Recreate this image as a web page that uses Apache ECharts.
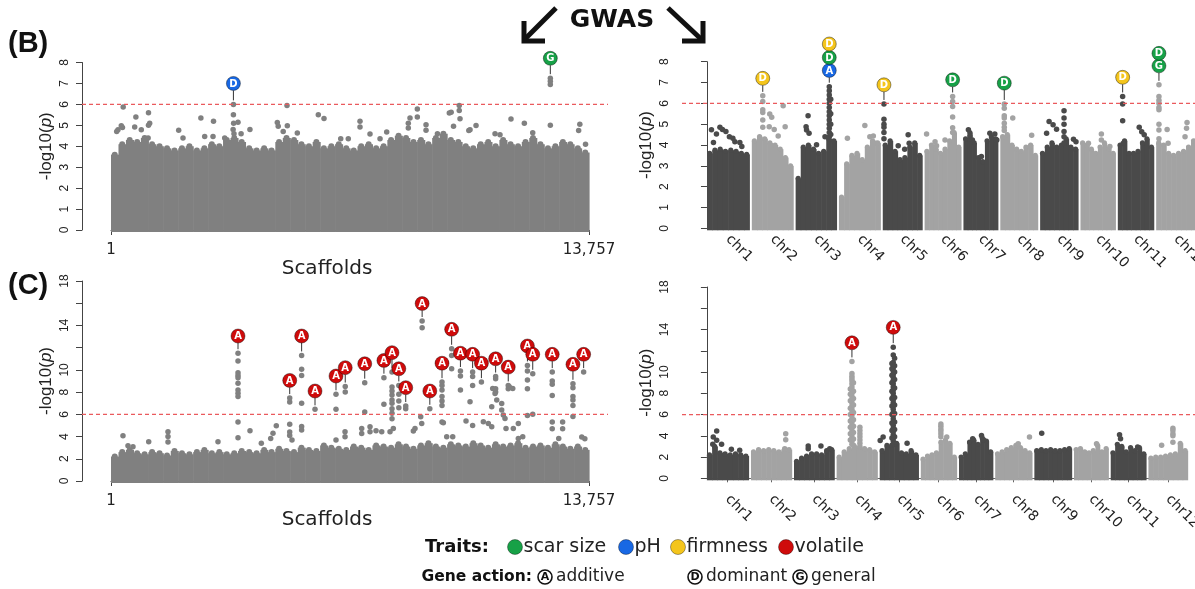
<!DOCTYPE html>
<html>
<head>
<meta charset="utf-8">
<title>GWAS Manhattan plots</title>
<script src="https://cdn.jsdelivr.net/npm/echarts@6.0.0/dist/echarts.min.js"></script>
<style>
  html, body { margin: 0; padding: 0; background: #fff; }
  #chart { width: 1195px; height: 589px; }
</style>
</head>
<body>
<div id="chart"></div>
<script>
// ---------- values ----------
const scaffoldRange = [1, 13757];
const chromosomes = ['chr1', 'chr2', 'chr3', 'chr4', 'chr5', 'chr6', 'chr7', 'chr8', 'chr9', 'chr10', 'chr11', 'chr12'];
const chrLength = [85, 83, 82, 83, 79, 73, 69, 75, 76, 70, 72, 80];
const threshold = 6;
const hiddenTicksC = [12, 16]; // ticks without label on the (C) y axes

// (B) scaffolds: upper edge of the dense cloud, 64 equal bins
const tlEnvelope = [3.6, 4.1, 4.3, 4.2, 4.4, 4.1, 4.0, 3.9, 3.8, 3.9, 4.0, 3.8, 3.9, 4.1, 4.0, 4.3,
  4.4, 4.2, 3.9, 3.8, 3.9, 3.8, 4.2, 4.4, 4.3, 4.1, 4.0, 4.2, 3.9, 4.0, 4.1, 3.9,
  3.8, 4.0, 4.1, 3.9, 4.0, 4.3, 4.5, 4.4, 4.2, 4.3, 4.1, 4.4, 4.6, 4.3, 4.2, 4.0,
  3.9, 4.1, 4.2, 4.0, 4.3, 4.1, 4.0, 4.2, 4.4, 4.1, 3.9, 4.0, 4.2, 4.1, 3.9, 3.7];
// (B) scaffolds: single markers above the cloud [scaffold, -log10 p]
const tlDots = [[352, 5.87], [331, 4.9], [165, 4.7], [202, 4.79], [297, 4.98], [683, 4.92], [717, 5.4], [873, 4.79],
  [1080, 5.6], [1080, 5.0], [1114, 5.1], [1069, 4.4], [1949, 4.76], [2073, 4.39], [2588, 5.35], [2697, 4.47],
  [2951, 5.2], [2937, 4.47], [3273, 4.39], [3524, 6.0], [3524, 5.5], [3530, 5.1], [3515, 4.8], [3540, 4.6],
  [3656, 5.15], [3745, 4.6], [3999, 4.8], [4787, 5.14], [4813, 4.95], [4957, 4.7], [5066, 5.95], [5075, 4.98],
  [5363, 4.63], [5967, 5.51], [6131, 5.32], [6612, 4.36], [6830, 4.36], [7167, 5.19], [7167, 4.92], [7455, 4.58],
  [7743, 4.36], [7935, 4.68], [8557, 5.1], [8557, 4.87], [8606, 5.35], [8817, 5.78], [8817, 5.4], [9067, 5.03],
  [9067, 4.76], [9395, 4.6], [9737, 5.59], [9790, 5.62], [9858, 4.95], [10023, 5.95], [10023, 5.71], [10045, 5.31],
  [10298, 4.75], [10333, 4.79], [10506, 4.99], [11053, 4.6], [11196, 4.55], [11512, 5.3], [11896, 5.1], [12137, 4.65],
  [12644, 7.25], [12644, 7.1], [12644, 6.95], [12644, 5.0], [13459, 4.75], [13493, 5.05], [13657, 4.1]];
// [scaffold, top marker, pin level, gene action, trait]
const tlPins = [[3524, 6.0, 7.0, 'D', 'pH'], [12644, 7.25, 8.2, 'G', 'scar size']];

// (C) scaffolds
const blEnvelope = [2.2, 2.6, 2.8, 2.5, 2.4, 2.6, 2.5, 2.3, 2.7, 2.5, 2.4, 2.6, 2.8, 2.5, 2.6, 2.4,
  2.5, 2.7, 2.6, 2.5, 2.8, 2.6, 2.9, 2.7, 2.6, 3.0, 2.8, 2.7, 3.2, 3.0, 2.9, 2.8,
  3.1, 3.0, 2.8, 3.2, 3.1, 3.0, 3.3, 3.1, 2.9, 3.2, 3.4, 3.1, 3.0, 3.3, 3.2, 3.1,
  3.4, 3.2, 3.0, 3.3, 3.1, 3.2, 3.4, 3.0, 3.1, 3.2, 3.0, 3.3, 3.1, 2.9, 3.1, 2.8];
const blDots = [[346, 4.07], [490, 3.17], [634, 3.08], [1086, 3.53], [1641, 4.44], [1641, 4.0], [1641, 3.5],
  [3080, 3.53], [4001, 4.53], [4327, 3.4], [4597, 3.83], [4663, 4.3], [4758, 4.97], [5210, 3.68],
  [6736, 4.44], [6736, 3.99], [7216, 4.73], [7216, 4.28], [7455, 4.88], [7455, 4.44], [7628, 4.52], [7792, 4.44],
  [8031, 4.44], [8126, 4.73], [8702, 4.49], [8750, 4.73], [8914, 5.78], [8943, 5.18], [9565, 5.24], [9662, 3.99],
  [9835, 3.99], [10218, 5.39], [10333, 7.13], [10716, 5.33], [10860, 5.18], [10958, 4.88], [10986, 8.33],
  [11053, 7.88], [11102, 7.28], [10958, 6.68], [11245, 6.98], [11245, 6.38], [11291, 5.93], [11340, 5.63],
  [11369, 4.73], [11464, 8.48], [11562, 8.33], [11579, 4.73], [11723, 5.18], [11723, 3.83], [11850, 3.99],
  [12886, 3.83], [12998, 5.3], [12998, 4.7], [13548, 3.97], [13637, 3.8]];
// vertical runs of markers under the peaks [scaffold, values]
const blColumns = [[3656, [11.5, 10.8, 9.75, 9.5, 9.3, 8.8, 8.2, 7.9, 7.6, 5.3, 3.9]], [5144, [7.46, 7.1, 5.1, 4.4, 4.1]],
  [5487, [11.3, 10.06, 9.5, 7.0, 4.9, 4.6]], [5872, [6.45]], [6476, [7.8, 6.45, 3.7]], [6742, [8.5, 8.0]],
  [7303, [8.85, 6.2]], [7855, [9.3, 6.9]], [8088, [9.8, 8.47, 8.1, 7.75, 7.3, 7.0, 6.5, 6.1, 5.6]],
  [8284, [8.6, 7.8, 7.2, 6.6]], [8483, [6.75, 6.5]], [8955, [14.4, 13.8]], [9176, [6.5]],
  [9527, [8.9, 8.6, 8.2, 7.6, 7.2, 6.8, 5.3]], [9804, [11.9, 11.3, 10.1]], [10057, [9.9, 9.45, 8.2]],
  [10408, [9.8, 9.4, 8.6, 5.0]], [10661, [8.9]], [11070, [9.4, 9.2, 8.3, 8.0]], [11433, [8.6, 8.3]],
  [11985, [10.4, 9.9, 9.1, 8.3, 5.9]], [12138, [9.65, 6.0]], [12699, [9.8, 9.0, 8.7, 7.7, 5.3, 4.7]],
  [13295, [8.75, 8.4, 7.6, 7.3, 6.8, 5.8]], [13603, [9.8]]];
const blPins = [[3656, 11.5, 13.05], [5144, 7.46, 9.05], [5487, 11.3, 13.05], [5872, 6.45, 8.1], [6476, 7.8, 9.45],
  [6742, 8.5, 10.2], [7303, 8.85, 10.55], [7855, 9.3, 10.85], [8088, 9.8, 11.55], [8284, 8.6, 10.1],
  [8483, 6.75, 8.4], [8955, 14.4, 15.97], [9176, 6.5, 8.1], [9527, 8.9, 10.6], [9804, 11.9, 13.65],
  [10057, 9.9, 11.5], [10408, 9.8, 11.4], [10661, 8.9, 10.6], [11070, 9.4, 11.0], [11433, 8.6, 10.25],
  [11985, 10.4, 12.15], [12138, 9.65, 11.4], [12699, 9.8, 11.4], [13295, 8.75, 10.5], [13603, 9.8, 11.4]]
  .map(p => p.concat(['A', 'volatile']));

// (B) chromosomes: 8 bins per chromosome
const trEnvelope = [[3.6, 3.75, 3.8, 3.7, 3.75, 3.7, 3.6, 3.55], [4.2, 4.4, 4.3, 4.1, 4.0, 3.8, 3.4, 3.0],
  [2.4, 3.9, 4.0, 3.8, 3.6, 3.7, 4.3, 4.2], [1.5, 3.1, 3.5, 3.6, 3.3, 3.9, 4.2, 4.1],
  [4.0, 4.2, 3.7, 3.3, 3.4, 3.9, 4.1, 3.5], [3.7, 4.0, 3.8, 3.6, 3.8, 4.2, 4.6, 3.9],
  [4.3, 4.6, 4.1, 3.4, 3.2, 4.2, 4.4, 4.3], [4.4, 4.5, 4.0, 3.8, 3.7, 3.9, 4.0, 3.5],
  [3.6, 3.9, 4.1, 3.9, 4.0, 4.3, 3.9, 3.8], [4.1, 4.0, 3.8, 3.6, 3.9, 4.1, 3.8, 3.6],
  [4.0, 4.2, 3.6, 3.6, 3.7, 4.1, 4.3, 3.9], [4.1, 4.0, 3.6, 3.5, 3.6, 3.7, 3.9, 4.2]];
// [chromosome, position in chromosome, -log10 p]
const trDots = [[1, 9, 4.73], [1, 13, 4.12], [1, 19, 4.53], [1, 26, 4.85], [1, 31, 4.75], [1, 38, 4.65], [1, 45, 4.4],
  [1, 52, 4.32], [1, 56, 4.16], [1, 66, 4.12], [1, 70, 3.93],
  [2, 36, 5.49], [2, 40, 5.33], [2, 35, 4.88], [2, 45, 4.75], [2, 63, 5.88], [2, 67, 4.88], [2, 53, 4.43],
  [3, 25, 5.4], [3, 21, 4.88], [3, 22, 4.72], [3, 27, 4.56], [3, 42, 4.01], [3, 59, 4.4],
  [4, 17, 4.33], [4, 52, 4.94], [4, 62, 4.4], [4, 69, 4.43], [4, 74, 4.08],
  [5, 31, 3.96], [5, 51, 4.49], [5, 53, 4.08], [5, 44, 3.8],
  [6, 4, 4.53], [6, 21, 4.16], [6, 24, 3.96], [6, 41, 4.24],
  [7, 10, 4.73], [7, 13, 4.43], [7, 18, 4.24], [7, 36, 3.45], [7, 53, 4.56], [7, 63, 4.53], [7, 67, 4.24],
  [8, 25, 5.3], [8, 63, 4.47], [8, 60, 3.91],
  [9, 18, 5.13], [9, 26, 4.97], [9, 33, 4.76], [9, 67, 4.28], [9, 72, 4.16], [9, 13, 4.56],
  [10, 42, 4.53], [10, 42, 4.24], [10, 16, 4.08], [10, 59, 3.93],
  [11, 43, 4.85], [11, 48, 4.64], [11, 53, 4.49], [11, 11, 4.08],
  [12, 22, 4.75], [12, 24, 4.08], [12, 62, 5.08], [12, 61, 4.8], [12, 58, 4.4]];
const trColumns = [[2, 22, [6.36, 6.09, 5.69, 5.56, 5.2, 4.85]],
  [3, 67.6, [6.8, 6.6, 6.4, 6.2, 6.0, 5.8, 5.6, 5.4, 5.2, 5.0, 4.8, 4.6, 4.4]], [3, 70.5, [6.2, 5.5, 5.0, 4.5]],
  [5, 2.4, [5.97, 5.24, 5.0, 4.85, 4.6, 4.3]], [6, 56.3, [6.33, 6.09, 5.85, 5.34, 4.83, 4.6]],
  [8, 8, [5.97, 5.77, 5.4, 5.3, 5.05, 4.85, 4.7]], [9, 48, [5.64, 5.3, 5.0, 4.65, 4.4, 4.1]],
  [11, 9.7, [6.33, 5.97, 5.17]], [12, 5.6, [6.89, 6.33, 6.15, 6.0, 5.8, 5.69, 5.0, 4.72, 4.3]]];
// [chromosome, position, top marker, pin level, gene action, trait]
const trPins = [[2, 22, 6.36, 7.2, 'D', 'firmness'], [3, 67.6, 6.8, 7.58, 'A', 'pH'],
  [3, 67.6, null, 8.2, 'D', 'scar size'], [3, 67.6, null, 8.85, 'D', 'firmness'],
  [5, 2.4, 5.97, 6.89, 'D', 'firmness'], [6, 56.3, 6.33, 7.13, 'D', 'scar size'],
  [8, 8, 5.97, 6.97, 'D', 'scar size'], [11, 9.7, 6.33, 7.25, 'D', 'firmness'],
  [12, 5.6, 6.89, 7.8, 'G', 'scar size'], [12, 5.6, null, 8.4, 'D', 'scar size']];

// (C) chromosomes
const brEnvelope = [[2.2, 3.0, 2.4, 2.3, 2.2, 2.3, 2.2, 2.1], [2.5, 2.7, 2.6, 2.7, 2.6, 2.5, 2.6, 2.7],
  [1.6, 1.9, 2.1, 2.3, 2.3, 2.2, 2.6, 2.7], [2.0, 2.5, 2.8, 3.0, 2.9, 2.8, 2.7, 2.5],
  [2.6, 3.1, 3.0, 3.3, 2.4, 2.3, 2.6, 2.2], [1.8, 2.1, 2.2, 2.4, 3.4, 3.6, 3.3, 2.0],
  [2.0, 2.3, 3.4, 3.6, 3.2, 3.8, 3.5, 2.5], [2.3, 2.5, 2.7, 2.9, 3.1, 2.9, 2.6, 2.4],
  [2.6, 2.7, 2.6, 2.7, 2.6, 2.6, 2.7, 2.8], [2.7, 2.8, 2.5, 2.4, 2.6, 3.1, 2.5, 2.8],
  [2.4, 3.2, 3.0, 2.5, 2.9, 2.6, 2.9, 2.3], [1.9, 2.0, 2.0, 2.1, 2.2, 2.3, 3.3, 2.6]];
const brDots = [[1, 20, 4.44], [1, 13, 3.88], [1, 12, 3.2], [1, 30, 3.2], [1, 50, 2.73], [1, 67, 2.63], [1, 20, 3.57],
  [2, 71, 4.19], [2, 71, 3.63], [2, 69, 2.79], [3, 29, 3.04], [3, 55, 3.04], [3, 29, 2.79], [3, 73, 2.79],
  [5, 56, 3.3], [5, 1, 3.55], [5, 7, 3.88], [6, 53, 3.88], [7, 28, 3.72], [7, 46, 4.03], [7, 50, 3.63],
  [8, 47, 3.26], [8, 70, 3.88], [9, 15, 4.25], [10, 46, 3.26], [11, 18, 4.1], [11, 20, 3.73], [11, 55, 2.95],
  [12, 27, 3.1]];
const brColumns = [[4, 31.3, [11.0, 9.85, 9.6, 9.4, 9.17, 8.9, 8.6, 8.3, 8.0, 7.7, 7.4, 7.1, 6.8, 6.5, 6.2, 5.9, 5.6, 5.3, 5.0, 4.7, 4.4, 4.1, 3.8, 3.5, 3.2]],
  [4, 28, [8.4, 7.9, 7.3, 6.6, 6.0, 5.4, 4.8, 4.2, 3.6]], [4, 34.5, [9.0, 8.2, 7.5, 6.9, 6.2, 5.5, 4.9, 4.3, 3.7, 3.1]],
  [4, 47.6, [4.8, 4.5, 4.2, 3.9, 3.6, 3.3, 3.0]],
  [5, 27.7, [12.34, 11.6, 10.9, 10.6, 10.4, 10.1, 9.8, 9.5, 9.2, 8.9, 8.6, 8.3, 8.0, 7.7, 7.4, 7.1, 6.8, 6.5, 6.2, 5.9, 5.6, 5.3, 5.0, 4.7, 4.4, 4.1, 3.8, 3.5, 3.2]],
  [5, 25, [10.8, 10.3, 9.7, 9.0, 8.2, 7.5, 6.8, 6.0, 5.2, 4.5, 3.8, 3.1]],
  [5, 30.5, [11.3, 10.6, 10.0, 9.3, 8.5, 7.6, 6.9, 6.1, 5.3, 4.6, 3.9, 3.2]],
  [6, 41, [5.1, 4.9, 4.65, 4.45, 4.2, 3.9]], [12, 50, [4.7, 4.5, 4.2, 4.0, 3.4]]];
const brPins = [[4, 31.3, 11.0, 12.75, 'A', 'volatile'], [5, 27.7, 12.34, 14.2, 'A', 'volatile']];

const traits = ['scar size', 'pH', 'firmness', 'volatile'];
const geneActions = [['A', 'additive'], ['D', 'dominant'], ['G', 'general']];

// ---------- styles ----------
const FONT = 'DejaVu Sans';
const AXFONT = 'Liberation Sans';
const GREY = '#808080';
const SHADES = ['#4a4a4a', '#a3a3a3'];
const AXIS = '#444';
const traitColor = { 'scar size': '#17a147', 'pH': '#1868e4', 'firmness': '#f4c51c', 'volatile': '#cf0b0b' };

// chromosome layout along the genome axis
const GAP = 5;
const chrStart = [];
let acc = 0;
chrLength.forEach(len => { chrStart.push(acc); acc += len + GAP; });
const chrCenter = chrLength.map((len, i) => chrStart[i] + len / 2);
const chrEnd = chrStart[11] + chrLength[11];

function scaffoldBins(env) {
  const w = (scaffoldRange[1] - scaffoldRange[0]) / env.length;
  return env.map((v, i) => [scaffoldRange[0] + i * w, scaffoldRange[0] + (i + 1) * w, v, 0]);
}
function chrBins(env) {
  const out = [];
  env.forEach((bins, c) => {
    const w = chrLength[c] / bins.length;
    bins.forEach((v, b) => out.push([chrStart[c] + b * w, chrStart[c] + (b + 1) * w, v, c % 2]));
  });
  return out;
}
function columnDots(cols, toX) {
  const out = [];
  cols.forEach(col => {
    const vals = col[col.length - 1];
    vals.forEach(v => out.push(toX(col, v)));
  });
  return out;
}

function massSeries(grid, data, colors, r) {
  return {
    type: 'custom', xAxisIndex: grid, yAxisIndex: grid, silent: true, z: 2,
    data: data, encode: { x: [0, 1], y: 2 },
    renderItem: function (params, api) {
      const p0 = api.coord([api.value(0), 0]);
      const p1 = api.coord([api.value(1), api.value(2)]);
      const fill = colors[api.value(3)];
      return {
        type: 'group',
        children: [
          { type: 'rect', shape: { x: p0[0], y: p1[1], width: p1[0] - p0[0] + 0.6, height: p0[1] - p1[1] + 2 }, style: { fill: fill } },
          { type: 'circle', shape: { cx: (p0[0] + p1[0]) / 2, cy: p1[1], r: r }, style: { fill: fill } }
        ]
      };
    }
  };
}
function dotSeries(grid, data, color) {
  return {
    type: 'scatter', xAxisIndex: grid, yAxisIndex: grid, silent: true, z: 3, clip: false,
    symbolSize: 5.5, data: data, itemStyle: { color: color, opacity: 1 }
  };
}
function thresholdSeries(grid, xMin, left, right) {
  return {
    type: 'custom', xAxisIndex: grid, yAxisIndex: grid, silent: true, z: 5,
    data: [[xMin, threshold]], encode: { x: 0, y: 1 },
    renderItem: function (params, api) {
      const cs = params.coordSys;
      const y = api.coord([api.value(0), api.value(1)])[1];
      const x2 = right == null ? api.getWidth() : cs.x + cs.width + right;
      return {
        type: 'line', shape: { x1: cs.x - left, y1: y, x2: x2, y2: y },
        style: { stroke: '#ea5a5d', lineWidth: 1.2, lineDash: [4, 3] }
      };
    }
  };
}
// pins: [x, top marker or null, pin level, letter, trait]
function pinSeries(grid, pins) {
  return {
    type: 'custom', xAxisIndex: grid, yAxisIndex: grid, silent: true, z: 6,
    data: pins.map(p => [p[0], p[2]]), encode: { x: 0, y: 1 },
    renderItem: function (params, api) {
      const pin = pins[params.dataIndex];
      const c = api.coord([pin[0], pin[2]]);
      const R = 7;
      const children = [];
      if (pin[1] != null) {
        const t = api.coord([pin[0], pin[1]]);
        children.push({ type: 'line', shape: { x1: c[0], y1: c[1] + R, x2: c[0], y2: t[1] - 4 }, style: { stroke: '#333', lineWidth: 1 } });
      }
      children.push({ type: 'circle', shape: { cx: c[0], cy: c[1], r: R }, style: { fill: traitColor[pin[4]], stroke: 'rgba(0,0,0,0.4)', lineWidth: 1 } });
      children.push({
        type: 'text', x: c[0], y: c[1] + 0.5,
        style: { text: pin[3], fill: '#fff', font: 'bold 10px "DejaVu Sans"', align: 'center', verticalAlign: 'middle', textAlign: 'center', textVerticalAlign: 'middle' }
      });
      return { type: 'group', children: children };
    }
  };
}

const chrX = (c, pos) => chrStart[c - 1] + pos;
const chrDot = d => ({ value: [chrX(d[0], d[1]), d[2]], itemStyle: { color: SHADES[(d[0] - 1) % 2] } });

const tlDotData = tlDots;
const blDotData = blDots.concat(columnDots(blColumns, (col, v) => [col[0], v]));
const trDotData = trDots.map(chrDot).concat(columnDots(trColumns, (col, v) => chrDot([col[0], col[1], v])));
const brDotData = brDots.map(chrDot).concat(columnDots(brColumns, (col, v) => chrDot([col[0], col[1], v])));
const trPinData = trPins.map(p => [chrX(p[0], p[1]), p[2], p[3], p[4], p[5]]);
const brPinData = brPins.map(p => [chrX(p[0], p[1]), p[2], p[3], p[4], p[5]]);

// ---------- axes ----------
function yAxis(grid, max, interval, offset, hidden) {
  return {
    gridIndex: grid, type: 'value', min: 0, max: max, interval: interval, offset: offset,
    axisLine: { show: true, lineStyle: { color: AXIS, width: 1 } },
    axisTick: { show: true, length: 6, lineStyle: { color: AXIS } },
    axisLabel: {
      rotate: 90, margin: 11, fontSize: 12, fontFamily: AXFONT, color: '#222',
      formatter: v => (hidden.indexOf(v) >= 0 ? '' : String(v))
    },
    splitLine: { show: false },
    name: '-log10({i|p})', nameLocation: 'middle', nameRotate: 90, nameGap: 27,
    nameTextStyle: { fontSize: 17, fontFamily: AXFONT, color: '#222', rich: { i: { fontStyle: 'italic', fontSize: 17, fontFamily: AXFONT, color: '#222' } } }
  };
}
function scaffoldAxis(grid) {
  return {
    gridIndex: grid, type: 'value', min: scaffoldRange[0], max: scaffoldRange[1], offset: 8,
    axisLine: { show: true, lineStyle: { color: AXIS, width: 1 } },
    axisTick: { show: true, customValues: scaffoldRange, length: 5, lineStyle: { color: AXIS } },
    axisLabel: { customValues: scaffoldRange, formatter: v => v.toLocaleString('en-US'), fontFamily: FONT, fontSize: 15, color: '#222', margin: 5 },
    splitLine: { show: false },
    name: 'Scaffolds', nameLocation: 'middle', nameGap: 6,
    nameTextStyle: { fontFamily: FONT, fontSize: 20, color: '#222', padding: [0, 46, 0, 0] }
  };
}
const chrLabel = v => chromosomes[chrCenter.findIndex(c => Math.abs(c - v) < 0.01)];
function chrAxis(grid, max, showLine, margin) {
  return {
    gridIndex: grid, type: 'value', min: -10, max: max, offset: showLine ? 8 : 0,
    axisLine: { show: showLine, lineStyle: { color: '#666', width: 1 } },
    axisTick: { show: showLine, customValues: chrCenter, length: 4, lineStyle: { color: '#666' } },
    axisLabel: { customValues: chrCenter, formatter: chrLabel, rotate: -45, margin: margin, fontFamily: FONT, fontSize: 14, color: '#222' },
    splitLine: { show: false }
  };
}

// ---------- legend / titles ----------
const graphic = [
  { type: 'text', x: 8, y: 44, style: { text: '(B)', font: 'bold 29px "Liberation Sans"', fill: '#111', textVerticalAlign: 'middle', verticalAlign: 'middle' } },
  { type: 'text', x: 8, y: 286, style: { text: '(C)', font: 'bold 29px "Liberation Sans"', fill: '#111', textVerticalAlign: 'middle', verticalAlign: 'middle' } },
  { type: 'text', x: 612, y: 20, style: { text: 'GWAS', font: 'bold 25px "DejaVu Sans"', fill: '#111', textAlign: 'center', align: 'center', textVerticalAlign: 'middle', verticalAlign: 'middle' } },
  { type: 'polyline', shape: { points: [[556, 8], [525, 39]] }, style: { stroke: '#111', lineWidth: 5, fill: null } },
  { type: 'polyline', shape: { points: [[524, 21], [524, 41], [545, 41]] }, style: { stroke: '#111', lineWidth: 5, fill: null, lineJoin: 'miter' } },
  { type: 'polyline', shape: { points: [[668, 8], [701, 39]] }, style: { stroke: '#111', lineWidth: 5, fill: null } },
  { type: 'polyline', shape: { points: [[703, 21], [703, 41], [682, 41]] }, style: { stroke: '#111', lineWidth: 5, fill: null, lineJoin: 'miter' } },
  { type: 'text', x: 489, y: 547, style: { text: 'Traits:', font: 'bold 18px "DejaVu Sans"', fill: '#111', textAlign: 'right', align: 'right', textVerticalAlign: 'middle', verticalAlign: 'middle' } },
  { type: 'text', x: 532, y: 577, style: { text: 'Gene action:', font: 'bold 15.5px "DejaVu Sans"', fill: '#111', textAlign: 'right', align: 'right', textVerticalAlign: 'middle', verticalAlign: 'middle' } }
];
const traitX = [515, 626, 678, 786];
traits.forEach((t, i) => {
  graphic.push({ type: 'circle', shape: { cx: traitX[i], cy: 547, r: 7.5 }, style: { fill: traitColor[t], stroke: 'rgba(0,0,0,0.35)', lineWidth: 1 } });
  graphic.push({ type: 'text', x: traitX[i] + 8.5, y: 547, style: { text: t, font: '19px "DejaVu Sans"', fill: '#222', textVerticalAlign: 'middle', verticalAlign: 'middle' } });
});
const actionX = [545, 695, 800];
geneActions.forEach((g, i) => {
  graphic.push({ type: 'circle', shape: { cx: actionX[i], cy: 577, r: 7 }, style: { fill: '#fff', stroke: '#111', lineWidth: 1.6 } });
  graphic.push({ type: 'text', x: actionX[i], y: 577.5, style: { text: g[0], font: 'bold 11px "DejaVu Sans"', fill: '#111', textAlign: 'center', align: 'center', textVerticalAlign: 'middle', verticalAlign: 'middle' } });
  graphic.push({ type: 'text', x: actionX[i] + 11, y: 577, style: { text: g[1], font: '17px "DejaVu Sans"', fill: '#222', textVerticalAlign: 'middle', verticalAlign: 'middle' } });
});

const option = {
  backgroundColor: '#fff',
  animation: false,
  grid: [
    { left: 111, top: 62.5, width: 478, height: 167.5, containLabel: false, outerBoundsMode: 'none' },
    { left: 702, top: 61.7, width: 494, height: 166.6, containLabel: false, outerBoundsMode: 'none' },
    { left: 111, top: 281, width: 478, height: 200, containLabel: false, outerBoundsMode: 'none' },
    { left: 702, top: 287, width: 466, height: 191.3, containLabel: false, outerBoundsMode: 'none' }
  ],
  xAxis: [scaffoldAxis(0), chrAxis(1, chrEnd, false, 9), scaffoldAxis(2), chrAxis(3, chrCenter[11], true, 11)],
  yAxis: [yAxis(0, 8, 1, 29, []), yAxis(1, 8, 1, 20, []), yAxis(2, 18, 2, 29, hiddenTicksC), yAxis(3, 18, 2, 20, hiddenTicksC)],
  graphic: graphic,
  series: [
    massSeries(0, scaffoldBins(tlEnvelope), [GREY], 3),
    dotSeries(0, tlDotData, GREY),
    thresholdSeries(0, scaffoldRange[0], 29, 19),
    pinSeries(0, tlPins),

    massSeries(1, chrBins(trEnvelope), SHADES, 2.6),
    dotSeries(1, trDotData, SHADES[0]),
    thresholdSeries(1, 0, 20, null),
    pinSeries(1, trPinData),

    massSeries(2, scaffoldBins(blEnvelope), [GREY], 3),
    dotSeries(2, blDotData, GREY),
    thresholdSeries(2, scaffoldRange[0], 29, 19),
    pinSeries(2, blPins),

    massSeries(3, chrBins(brEnvelope), SHADES, 2.6),
    dotSeries(3, brDotData, SHADES[0]),
    thresholdSeries(3, 0, 20, null),
    pinSeries(3, brPinData)
  ]
};

const chart = echarts.init(document.getElementById('chart'));
chart.setOption(option);
</script>
</body>
</html>
